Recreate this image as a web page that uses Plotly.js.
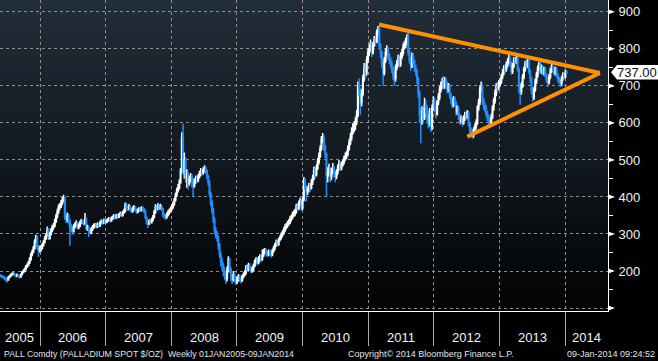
<!DOCTYPE html>
<html><head><meta charset="utf-8">
<script src="https://cdn.plot.ly/plotly-3.0.1.min.js"></script>
<style>
html,body{margin:0;padding:0;background:#000;width:658px;height:361px;overflow:hidden}
#bg{position:absolute;left:0;top:0;width:608px;height:311px;background:linear-gradient(to bottom,#222e3a 0%,#131a21 48%,#010203 100%)}
#chart{position:absolute;left:0;top:0;width:658px;height:361px}
</style></head><body>
<div id="bg"></div><div id="chart"></div>
<script>
// Weekly palladium spot bars (Fridays), starting 2005-05-20
const firstWeek = '2005-05-20';
const firstOpen = 190;
const closes = [
188,186,184,183,180,178,176,183,186,190,192,193,188,187,190,186,184,190,197,200,205,212,215,222,232,245,252,262,280,292,265,258,260,
262,270,278,288,296,312,288,300,310,318,322,335,348,360,372,375,385,392,398,345,340,350,335,318,315,308,320,325,330,318,322,330,335,332,328,340,315,318,310,305,312,318,322,325,320,326,322,330,334,330,336,332,
335,338,340,336,342,345,348,344,350,346,352,355,350,358,362,378,372,368,375,366,362,368,372,366,360,364,368,365,370,366,362,345,330,328,335,332,338,345,358,372,368,375,370,374,368,352,348,345,352,358,362,368,
372,380,392,405,418,425,440,470,560,468,500,455,462,438,448,455,445,430,442,450,445,455,462,470,466,472,478,470,455,440,410,385,365,340,310,300,290,270,245,225,215,200,195,180,200,232,205,185,178,190,180,172,178,
185,178,175,185,190,195,210,205,215,208,200,205,215,225,230,222,232,238,232,242,252,255,248,245,252,250,244,255,262,270,278,272,285,290,298,302,310,318,322,328,332,340,345,352,356,360,375,370,382,390,370,392,
445,428,415,420,430,425,440,450,470,460,478,495,510,530,555,560,535,515,460,465,475,455,470,480,462,455,468,480,490,478,488,495,505,510,515,530,545,560,575,585,592,600,620,700,690,655,680,720,750,735,770,790,
800,815,790,810,825,820,845,855,810,790,760,735,770,790,800,780,770,760,745,730,720,750,760,775,760,780,790,805,810,820,830,790,770,755,780,765,750,740,720,680,620,605,630,615,650,640,610,600,630,590,640,660,
640,625,655,670,690,700,710,700,715,705,690,700,675,660,650,665,655,630,640,620,605,610,600,612,622,618,628,598,580,575,568,580,590,600,640,655,690,700,660,645,640,625,615,605,600,615,640,660,680,700,695,705,
710,725,735,748,745,758,765,775,760,740,755,770,768,775,745,700,685,700,725,745,760,755,768,740,720,690,670,690,712,730,748,760,740,750,735,745,730,718,710,725,740,752,748,735,745,730,718,712,708,720,730,725,738,737
];
const highs = [
193,191,189,188,186,183,181,186,189,193,196,197,195,191,193,192,188,193,200,204,209,216,220,227,238,250,258,268,286,298,296,270,268,
270,276,284,294,303,320,316,306,316,325,330,342,355,368,380,384,392,400,406,400,355,358,354,340,328,320,326,332,337,334,328,336,341,340,336,357,345,325,322,315,318,324,328,330,329,332,330,336,340,338,342,340,
340,343,346,344,347,350,354,352,355,354,357,361,358,363,368,385,384,377,381,378,370,374,378,375,369,369,373,372,375,374,371,365,348,336,340,339,344,351,365,380,378,384,380,382,378,371,357,352,358,364,368,374,
380,388,398,412,425,435,448,478,575,598,520,508,475,468,458,465,462,450,450,458,456,462,470,478,475,480,486,482,474,460,445,415,392,370,345,318,308,296,276,252,235,222,210,200,212,240,236,210,192,200,195,185,186,
192,190,183,190,196,202,216,218,222,220,212,212,220,232,238,235,240,245,242,258,260,262,260,254,258,258,254,260,268,276,285,284,290,296,304,310,318,326,330,336,340,348,352,360,364,368,382,384,390,398,394,400,
454,450,432,428,438,436,448,460,482,478,488,505,520,540,565,573,566,542,520,480,490,480,478,492,484,470,475,488,500,495,496,502,512,520,525,540,556,572,588,600,605,615,635,712,720,695,690,730,762,760,780,800,
812,825,820,818,835,832,852,862,858,815,795,765,778,800,810,806,788,778,768,752,738,758,770,785,782,790,800,815,822,830,840,845,798,778,790,788,772,758,745,725,688,640,645,642,668,662,648,622,640,636,650,672,
668,648,662,680,700,712,722,727,724,722,712,708,705,682,668,672,672,660,648,645,626,620,615,620,630,630,635,632,602,588,582,588,598,610,648,665,702,712,706,668,655,648,632,622,612,624,648,668,690,708,712,715,
720,732,745,756,758,766,775,784,780,765,762,778,778,782,778,750,706,710,732,752,768,770,775,772,745,725,695,698,720,738,756,765,764,758,755,752,750,735,724,732,748,760,758,752,752,750,735,725,718,727,737,735,744,742
];
const lows = [
185,183,181,179,176,172,168,174,180,184,188,189,185,183,184,182,180,182,188,194,197,202,208,212,219,228,240,248,258,275,258,238,250,
252,258,266,274,284,292,283,285,296,305,312,318,330,342,355,365,370,378,385,338,330,332,325,268,305,298,304,315,320,312,313,318,326,326,322,325,310,308,292,298,300,308,314,317,315,316,318,319,326,325,327,327,
328,331,334,331,333,338,341,339,341,342,343,348,345,347,354,358,366,362,364,360,356,358,364,360,355,356,360,360,361,361,357,340,325,316,324,326,328,334,342,355,362,364,364,366,362,345,342,338,341,347,352,358,
362,368,376,388,400,412,420,436,465,460,450,440,425,420,430,440,425,400,425,436,438,440,450,456,458,460,466,462,448,430,400,375,355,330,298,288,280,258,235,212,200,185,175,165,172,196,195,172,165,172,168,162,165,
172,170,166,170,180,185,190,198,200,200,194,195,200,210,220,215,218,226,224,228,238,246,240,238,240,244,236,240,250,256,265,266,268,280,285,292,298,305,312,316,322,326,334,340,346,348,355,362,365,376,362,365,
388,418,388,405,412,415,420,432,445,450,455,472,488,505,525,545,525,505,400,440,455,440,445,462,452,440,448,460,472,470,472,482,488,498,502,510,525,540,552,568,575,580,595,615,672,622,645,672,712,720,728,762,
780,792,778,785,805,810,815,835,800,775,748,700,728,762,782,770,760,748,735,715,700,712,742,752,750,752,772,782,798,802,812,782,760,740,748,755,738,728,705,668,600,545,595,600,608,625,598,585,590,575,580,632,
630,612,620,648,662,682,692,690,692,695,680,682,665,650,640,642,645,620,622,608,595,598,590,595,605,610,610,590,572,565,557,560,572,582,595,632,648,682,650,635,628,615,605,595,589,594,610,632,652,672,685,688,
698,705,718,728,735,738,750,758,752,730,732,748,758,760,738,680,649,676,695,718,738,745,748,732,708,678,657,662,684,705,722,740,732,732,728,728,722,708,697,704,718,735,740,728,728,722,710,705,697,700,714,718,720,732
];

const yTicks = [100,200,300,400,500,600,700,800,900];
const yTickText = ['','200','300','400','500','600','700','800','900'];
const yearStarts = ['2006-01-01','2007-01-01','2008-01-01','2009-01-01','2010-01-01','2011-01-01','2012-01-01','2013-01-01','2014-01-01'];
const yearLabels = ['2005','2006','2007','2008','2009','2010','2011','2012','2013','2014'];
const lastPrice = 737;
const lastPriceText = '737.00';
const topLineX = ['2011-03-02','2014-07-14'];
const topLineY = [866,735];
const lowLineX = ['2012-07-06','2014-07-14'];
const lowLineY = [563,735];
const footerLeft = 'PALL Comdty (PALLADIUM SPOT $/OZ)  Weekly 01JAN2005-09JAN2014';
const footerMid = 'Copyright\u00A9 2014 Bloomberg Finance L.P.';
const footerRight = '09-Jan-2014 09:24:52';

// layout constants
const xRange = ['2005-05-23','2014-08-28'];
const yRange = [92,932];
const plotW = 608, plotH = 311;
const pxPerUnit = plotH/(yRange[1]-yRange[0]);

const t0 = Date.parse(firstWeek+'T00:00:00Z');
const dates = closes.map((_, i) => new Date(t0 + i*7*864e5).toISOString().slice(0,10));
const opens = closes.map((c, i) => i === 0 ? firstOpen : closes[i-1]);

const FONT = 'Liberation Sans, Arial, sans-serif';

const traces = [
  {type:'candlestick', x:dates, open:opens, high:highs, low:lows, close:closes,
   increasing:{line:{color:'#ffffff', width:1.5}, fillcolor:'rgba(0,0,0,0)'},
   decreasing:{line:{color:'#1e8fff', width:1.5}, fillcolor:'#1e8fff'},
   whiskerwidth:0, hoverinfo:'skip', showlegend:false},
  {type:'scatter', mode:'lines', x:topLineX, y:topLineY, line:{color:'#ff9000', width:4}, hoverinfo:'skip', showlegend:false},
  {type:'scatter', mode:'lines', x:lowLineX, y:lowLineY, line:{color:'#ff9000', width:4}, hoverinfo:'skip', showlegend:false}
];

const shapes = [];
const dsu = 2.6/pxPerUnit, dxp = 7/plotW;
yTicks.forEach(v => {
  shapes.push({type:'path', xref:'paper', yref:'y', layer:'above',
    path:`M 1 ${v+dsu} L ${1+dxp} ${v} L 1 ${v-dsu} Z`, fillcolor:'#ffffff', line:{width:0}});
});
// price tag
const th = 7.2/pxPerUnit;
const p = px => 1 + px/plotW;
shapes.push({type:'path', xref:'paper', yref:'y', layer:'above',
  path:`M ${p(3)} ${lastPrice} L ${p(9)} ${lastPrice+th} L ${p(52)} ${lastPrice+th} L ${p(52)} ${lastPrice-th} L ${p(9)} ${lastPrice-th} Z`,
  fillcolor:'#ffffff', line:{width:0}});

function mid(a, b){ return new Date((Date.parse(a)+Date.parse(b))/2).toISOString().slice(0,10); }
const annotations = [];
yearLabels.forEach((yl, k) => {
  const y = +yl;
  let s = `${y}-01-01`, e = `${y+1}-01-01`;
  if (Date.parse(s) < Date.parse(xRange[0])) s = xRange[0];
  if (Date.parse(e) > Date.parse(xRange[1])) e = xRange[1];
  annotations.push({xref:'x', yref:'paper', x:mid(s,e), y:0, yanchor:'middle', yshift:-26.5,
    text:yl, showarrow:false, font:{family:FONT, size:13, color:'#f2f4f7'}});
});
annotations.push({xref:'paper', yref:'y', x:1, xanchor:'left', xshift:7, y:lastPrice, yanchor:'middle',
  text:lastPriceText, showarrow:false, font:{family:FONT, size:13, color:'#0a0f1a'}});
annotations.push({xref:'paper', yref:'paper', x:0, xanchor:'left', xshift:2, y:0, yanchor:'middle', yshift:-42.5,
  text:footerLeft, showarrow:false, font:{family:FONT, size:8.8, color:'#e4e4e4'}});
annotations.push({xref:'paper', yref:'paper', x:346/plotW, xanchor:'left', y:0, yanchor:'middle', yshift:-42.5,
  text:footerMid, showarrow:false, font:{family:FONT, size:9, color:'#e4e4e4'}});
annotations.push({xref:'paper', yref:'paper', x:657/plotW, xanchor:'right', y:0, yanchor:'middle', yshift:-42.5,
  text:footerRight, showarrow:false, font:{family:FONT, size:9, color:'#e4e4e4'}});

const layout = {
  width:658, height:361, margin:{l:0, r:50, t:0, b:50},
  paper_bgcolor:'rgba(0,0,0,0)', plot_bgcolor:'rgba(0,0,0,0)',
  showlegend:false, dragmode:false,
  xaxis:{type:'date', range:xRange, autorange:false, tickmode:'array', tickvals:yearStarts,
    showticklabels:false, showgrid:true, gridcolor:'#8e8e8e', griddash:'dot', gridwidth:1,
    ticks:'outside', ticklen:34, tickcolor:'#a8a8a8', tickwidth:1,
    showline:true, linecolor:'#ffffff', linewidth:1, zeroline:false,
    rangeslider:{visible:false}, fixedrange:true},
  yaxis:{side:'right', range:yRange, autorange:false, tickmode:'array', tickvals:yTicks, ticktext:yTickText,
    showgrid:true, gridcolor:'#8e8e8e', griddash:'dot', gridwidth:1,
    ticks:'outside', ticklen:7, tickcolor:'rgba(0,0,0,0)',
    tickfont:{family:FONT, size:13, color:'#eef2f7'},
    minor:{ticks:'outside', ticklen:4, tickwidth:1, tickcolor:'#ffffff', dtick:50, tick0:50, showgrid:false},
    showline:true, linecolor:'#ffffff', linewidth:1, zeroline:false, fixedrange:true},
  shapes:shapes, annotations:annotations
};

Plotly.newPlot('chart', traces, layout, {staticPlot:true, displayModeBar:false});
</script></body></html>
